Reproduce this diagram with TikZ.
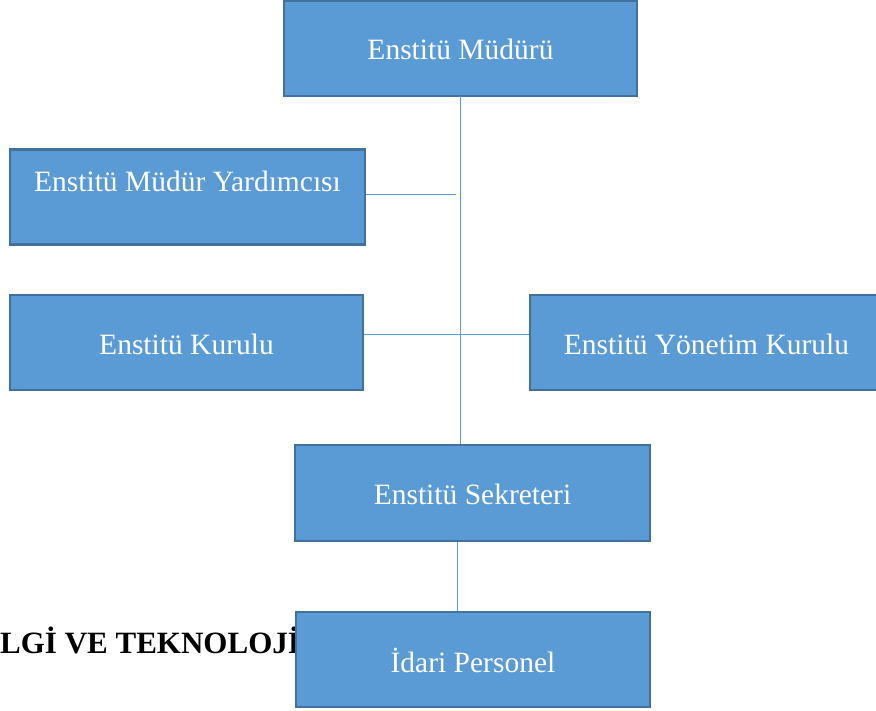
\documentclass[tikz,border=0pt]{standalone}
\usepackage{fontspec}
\setmainfont{Liberation Serif}
\definecolor{boxfill}{RGB}{91,155,213}
\definecolor{boxedge}{RGB}{65,113,156}
\definecolor{linkc}{RGB}{91,155,213}
\begin{document}
\begin{tikzpicture}[x=1pt,y=-1pt,
  orgbox/.style={draw=boxedge, line width=2.2pt, fill=boxfill, text=white,
    minimum width=353pt, minimum height=95pt, inner sep=0pt,
    font=\fontsize{29.5}{33}\selectfont, text height=29pt, text depth=6pt},
  link/.style={draw=linkc, line width=1pt}]
\useasboundingbox (0,0) rectangle (876,711);
\fill[white] (0,0) rectangle (876,711);
% background heading partly hidden
\node[anchor=base west, inner sep=0pt, font=\fontsize{31}{35}\selectfont\bfseries] (head) at (0,653) {LGİ VE TEKNOLOJİ};
\node[orgbox] (mud) at (460.5,48.5) {Enstitü Müdürü};
\node[orgbox, minimum width=355pt, text height=8pt, text depth=18pt] (yrd) at (187.5,197) {Enstitü Müdür Yardımcısı};
\node[orgbox, text height=31pt, text depth=6pt] (kur) at (186.5,342.5) {Enstitü Kurulu};
\node[orgbox, text height=31pt, text depth=6pt] (yon) at (706.5,342.5) {Enstitü Yönetim Kurulu};
\node[orgbox, minimum width=355pt, minimum height=96pt, text height=28pt, text depth=6pt] (sek) at (472.5,493) {Enstitü Sekreteri};
\node[orgbox, minimum width=354pt, text height=32pt, text depth=6pt] (idr) at (473,659.5) {İdari Personel};
\coordinate (yend) at (456,195);
\coordinate (hl) at (0,335);
\coordinate (vl) at (457,0);
\draw[link] ([yshift=1pt]mud.south) -- (mud.south |- sek.north);
\draw[link] (yrd.east |- yend) -- (yend);
\draw[link] (kur.east |- hl) -- (yon.west |- hl);
\draw[link] (sek.south -| vl) -- (idr.north -| vl);
\end{tikzpicture}
\end{document}
